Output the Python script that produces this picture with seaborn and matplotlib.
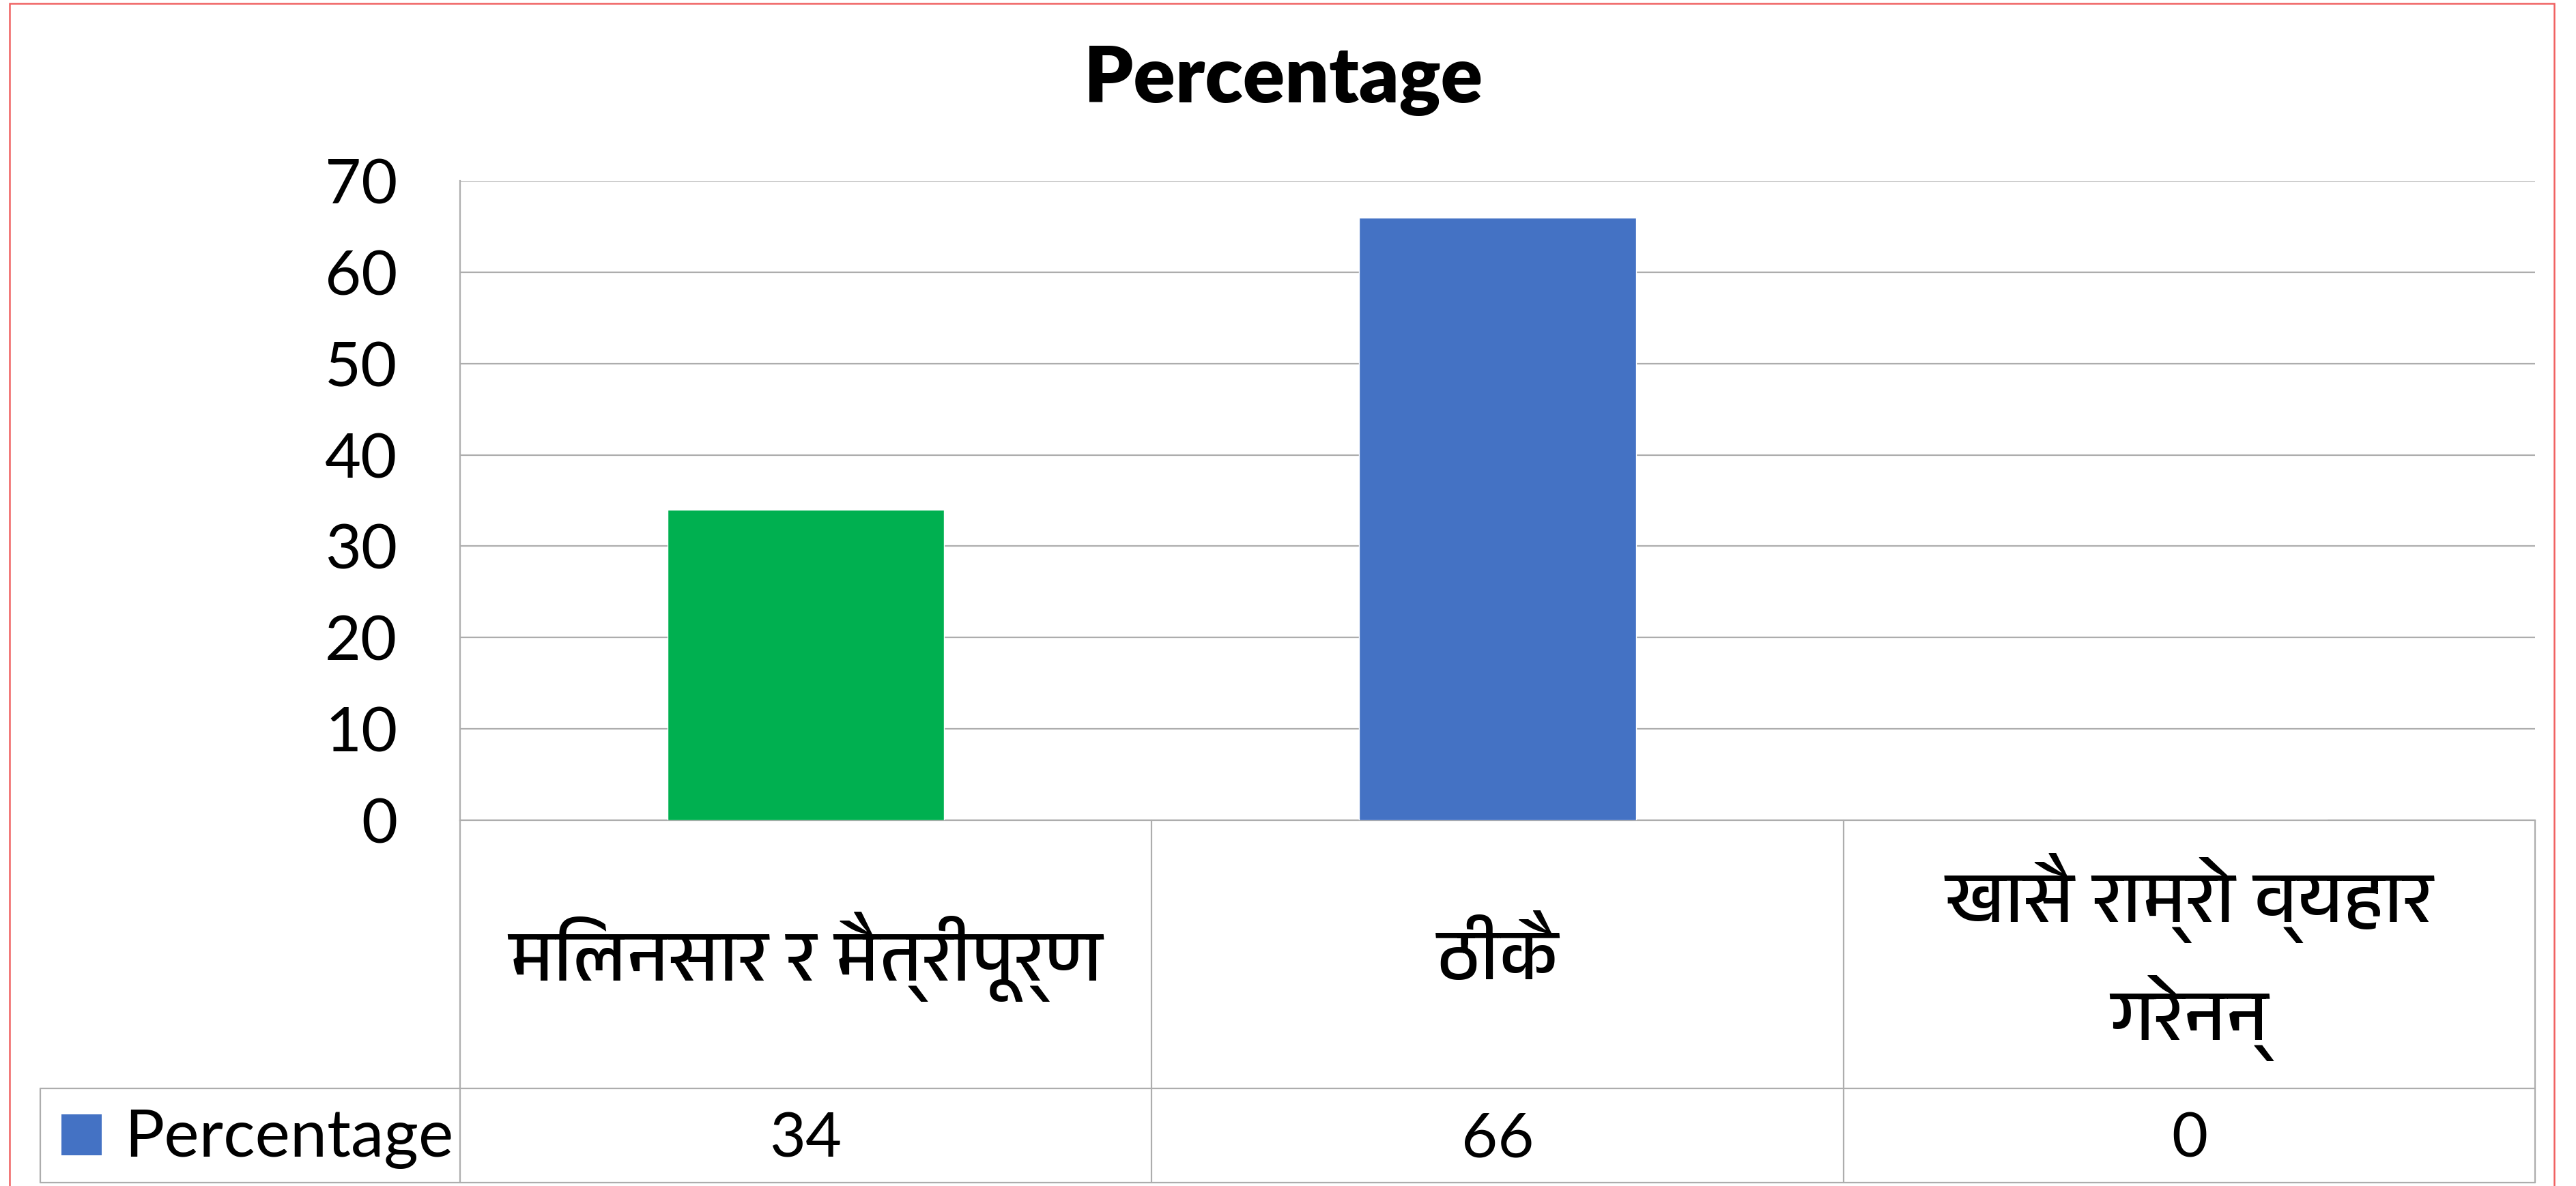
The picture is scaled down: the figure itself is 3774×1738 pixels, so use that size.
import matplotlib
matplotlib.use("Agg")
import matplotlib.pyplot as plt
import seaborn as sns
import pandas as pd
from matplotlib import font_manager
from matplotlib.ft2font import FT2Font
from matplotlib.patches import Rectangle

# Chart data
categories = ["मिलनसार र मैत्रीपूर्ण", "ठीकै", "खासै राम्रो व्यहार\nगरेनन्"]
values = [34, 66, 0]
series_name = "Percentage"
bar_colors = ["#00B050", "#4472C4", "#A5A5A5"]
y_ticks = [0, 10, 20, 30, 40, 50, 60, 70]
chart_title = "Percentage"


def find_devanagari_family():
    """Return the name of an installed family that covers Devanagari, if any."""
    found = []
    for entry in font_manager.fontManager.ttflist:
        try:
            cmap = FT2Font(entry.fname).get_charmap()
        except Exception:
            continue
        if 0x092E in cmap and 0x0948 in cmap:
            found.append(entry.name)
    found.sort(key=lambda n: (0 if "Devanagari" in n else 1, n))
    return found[0] if found else None


sns.set_theme(style="white")
deva = find_devanagari_family()
families = ["Lato"] + ([deva] if deva else []) + ["DejaVu Sans"]
plt.rcParams["font.family"] = families
plt.rcParams["text.color"] = "black"
plt.rcParams["ytick.color"] = "black"
plt.rcParams["ytick.labelcolor"] = "black"

W, H, DPI = 3774, 1738, 100
fig = plt.figure(figsize=(W / DPI, H / DPI), dpi=DPI, facecolor="white")


def fx(px):
    return px / W


def fy(py):
    return 1 - py / H


GRID = "#ADADAD"
left_px, right_px = 674, 3714
top_px, axis_px, table_bottom_px = 265, 1202, 1733

# Plot area
ax = fig.add_axes([fx(left_px), fy(axis_px), fx(right_px) - fx(left_px), fy(top_px) - fy(axis_px)])
df = pd.DataFrame({"category": categories, "value": values})
sns.barplot(data=df, x="category", y="value", hue="category", palette=bar_colors,
            width=0.4, legend=False, saturation=1, ax=ax, zorder=3)
ax.set_xlim(-0.5, 2.5)
ax.set_ylim(0, 70)
ax.set_yticks(y_ticks)
ax.set_yticklabels([str(t) for t in y_ticks], fontsize=66, family=families, color="black")
ax.tick_params(axis="y", length=0, pad=66)
ax.set_xticks([])
ax.set_xlabel("")
ax.set_ylabel("")
ax.yaxis.grid(True, color=GRID, linewidth=1.6)
ax.set_axisbelow(True)
for side in ["top", "right"]:
    ax.spines[side].set_visible(False)
for side in ["left", "bottom"]:
    ax.spines[side].set_color(GRID)
    ax.spines[side].set_linewidth(1.6)

# Data table under the plot
tab = fig.add_axes([fx(left_px), fy(table_bottom_px), fx(right_px) - fx(left_px),
                    fy(axis_px) - fy(table_bottom_px)])
tab.set_xlim(-0.5, 2.5)
tab_h = table_bottom_px - axis_px
tab.set_ylim(0, tab_h)
tab.axis("off")
cat_w = (right_px - left_px) / 3.0


def px_to_x(px):
    return -0.5 + (px - left_px) / cat_w


row_div = table_bottom_px - 1595
legend_left = px_to_x(59)
lw = 1.6
tab.plot([legend_left, 2.5], [row_div, row_div], color=GRID, lw=lw, clip_on=False)
tab.plot([legend_left, 2.5], [0, 0], color=GRID, lw=lw, clip_on=False)
tab.plot([legend_left, legend_left], [0, row_div], color=GRID, lw=lw, clip_on=False)
for xv in [-0.5, 0.5, 1.5, 2.5]:
    tab.plot([xv, xv], [0, tab_h], color=GRID, lw=lw, clip_on=False)

cat_center = row_div + (tab_h - row_div) / 2
for i, label in enumerate(categories):
    tab.text(i, cat_center - 4, label, ha="center", va="center", fontsize=77,
             linespacing=1.5, family=families, color="black", clip_on=False)

baseline = table_bottom_px - 1695
for i, v in enumerate(values):
    tab.text(i, baseline, str(v), ha="center", va="baseline", fontsize=66,
             family=families, color="black", clip_on=False)

tab.add_patch(Rectangle((px_to_x(90), table_bottom_px - 1693), 59 / cat_w, 60,
                        facecolor=bar_colors[1], edgecolor="none", clip_on=False))
tab.text(px_to_x(182), baseline, series_name, ha="left", va="baseline", fontsize=70,
         family=families, color="black", clip_on=False)

# Title
fig.text(fx(1880), fy(150), chart_title, ha="center", va="baseline", fontsize=82,
         fontweight="heavy", family=families, color="black")

# Chart frame
fig.patches.append(Rectangle((fx(14), fy(1760)), fx(3742) - fx(14), fy(5) - fy(1760),
                             transform=fig.transFigure, fill=False, edgecolor="#F06262",
                             linewidth=1.8))

fig.savefig("out.png", dpi=DPI, facecolor="white")
